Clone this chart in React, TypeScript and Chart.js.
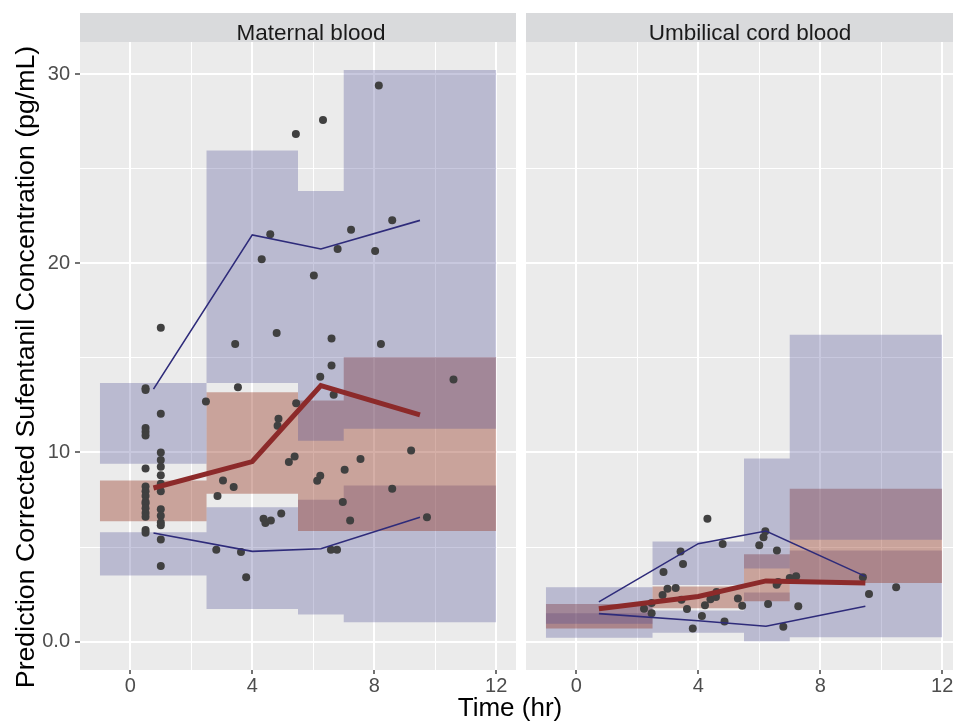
import React, { useEffect, useRef } from 'react';
import { Chart, registerables } from 'chart.js';

Chart.register(...registerables);

const FONT = "'Liberation Sans', Arial, Helvetica, sans-serif";

// ---------- data ----------
const binEdges = [-1, 2.5, 5.5, 7, 12];
const xMajorTicks = [0, 4, 8, 12];
const xGridTicks = [0, 2, 4, 6, 8, 10, 12];
const yGridTicks = [0, 5, 10, 15, 20, 25, 30];
const yTickLabels = ['0.0', '', '10', '', '20', '', '30'];

// Maternal blood: simulated CI bands per bin
const matUpperLo = [9.4, 13.67, 10.62, 11.25];
const matUpperHi = [13.67, 25.96, 23.82, 30.22];
const matMedLo = [6.36, 7.82, 5.85, 5.85];
const matMedHi = [8.52, 13.19, 12.75, 15.04];
const matLowerLo = [3.5, 1.73, 1.43, 1.02];
const matLowerHi = [5.78, 7.1, 7.5, 8.26];

// Maternal blood: observed percentile lines
const matLineX = [0.76, 4.0, 6.25, 9.5];
const matObsMedian = [8.12, 9.52, 13.54, 11.99];
const matObsP95 = [13.35, 21.5, 20.76, 22.27];
const matObsP05 = [5.74, 4.77, 4.91, 6.57];

// Maternal blood: observations
const matPoints: [number, number][] = [
  [0.5, 13.4], [0.5, 13.3], [0.5, 11.3], [0.5, 11.1], [0.5, 10.9], [0.5, 9.15],
  [0.5, 8.2], [0.5, 7.95], [0.5, 7.7], [0.5, 7.4], [0.5, 7.3], [0.5, 7.05],
  [0.5, 6.8], [0.5, 6.6], [0.5, 5.9], [0.5, 5.75],
  [1.0, 16.6], [1.0, 12.05], [1.0, 10.0], [1.0, 9.6], [1.0, 9.25], [1.0, 8.8],
  [1.0, 8.35], [1.0, 7.95], [1.0, 7.0], [1.0, 6.65], [1.0, 6.3], [1.0, 6.15],
  [1.0, 5.4], [1.0, 4.0],
  [2.48, 12.7], [2.82, 4.86], [2.86, 7.7], [3.04, 8.52], [3.39, 8.17], [3.44, 15.74],
  [3.53, 13.45], [3.63, 4.74], [3.8, 3.4], [4.31, 20.22], [4.37, 6.5], [4.43, 6.27],
  [4.59, 21.54], [4.61, 6.4], [4.8, 16.32], [4.86, 11.78], [4.83, 11.41], [4.95, 6.78],
  [5.2, 9.49], [5.39, 9.79], [5.43, 26.84], [5.44, 12.6], [6.02, 19.35], [6.13, 8.5],
  [6.23, 8.77], [6.23, 14.0], [6.32, 27.58], [6.58, 4.86], [6.6, 16.02], [6.6, 14.6],
  [6.67, 13.05], [6.78, 4.86], [6.8, 20.76], [6.97, 7.38], [7.03, 9.09], [7.21, 6.41],
  [7.24, 21.78], [7.55, 9.66], [8.03, 20.65], [8.15, 29.4], [8.22, 15.73], [8.59, 22.27],
  [8.59, 8.08], [9.21, 10.1], [9.73, 6.57], [10.6, 13.86],
];

// Umbilical cord blood: simulated CI bands per bin
const cordUpperLo = [0.95, 3.0, 3.86, 5.38];
const cordUpperHi = [2.87, 5.29, 9.68, 16.22];
const cordMedLo = [0.7, 1.76, 2.13, 3.1];
const cordMedHi = [1.99, 2.92, 4.62, 8.08];
const cordLowerLo = [0.2, 0.47, 0.02, 0.23];
const cordLowerHi = [1.5, 1.65, 2.6, 4.82];

// Umbilical cord blood: observed percentile lines
const cordLineX = [0.74, 4.0, 6.22, 9.48];
const cordObsMedian = [1.74, 2.39, 3.21, 3.1];
const cordObsP95 = [2.1, 5.18, 5.85, 3.45];
const cordObsP05 = [1.48, 1.1, 0.81, 1.87];

// Umbilical cord blood: observations
const cordPoints: [number, number][] = [
  [2.22, 1.74], [2.47, 1.5], [2.47, 2.04], [2.83, 2.47], [2.86, 3.68], [2.99, 2.8],
  [3.26, 2.84], [3.42, 4.77], [3.5, 4.1], [3.45, 2.22], [3.63, 1.73], [3.82, 0.69],
  [4.12, 1.35], [4.22, 1.92], [4.3, 6.5], [4.4, 2.24], [4.58, 2.36], [4.6, 2.62],
  [4.8, 5.16], [4.86, 1.07], [5.3, 2.28], [5.44, 1.9], [6.0, 5.1], [6.14, 5.52],
  [6.2, 5.83], [6.58, 4.82], [6.57, 3.01], [6.62, 3.15], [6.29, 1.99], [6.79, 0.78],
  [7.0, 3.36], [7.21, 3.45], [7.28, 1.87], [9.4, 3.4], [9.6, 2.52], [10.49, 2.87],
];

const yTitle = 'Prediction Corrected Sufentanil Concentration (pg/mL)';

// ---------- styling ----------
const BLUE_FILL = 'rgba(72, 72, 145, 0.30)';
const RED_FILL = 'rgba(150, 55, 35, 0.40)';
const BLUE_LINE = '#2e2b7a';
const RED_LINE = '#8c2a2a';
const POINT = '#404040';

const stepData = (vals: number[]) =>
  binEdges.map((e, i) => ({ x: e, y: vals[Math.min(i, vals.length - 1)] }));

const band = (lo: number[], hi: number[], color: string) => [
  {
    type: 'line', data: stepData(hi), stepped: true, fill: '+1', backgroundColor: color,
    borderWidth: 0, pointRadius: 0,
  },
  {
    type: 'line', data: stepData(lo), stepped: true, fill: false,
    borderWidth: 0, pointRadius: 0,
  },
];

const lineDs = (xs: number[], ys: number[], color: string, width: number) => ({
  type: 'line',
  data: xs.map((x, i) => ({ x, y: ys[i] })),
  borderColor: color, borderWidth: width, pointRadius: 0, fill: false, tension: 0,
});

const panelDeco = {
  id: 'panelDeco',
  beforeDraw(chart: any, _args: any, opts: any) {
    const { ctx, chartArea: a } = chart;
    ctx.save();
    ctx.fillStyle = '#ebebeb';
    ctx.fillRect(a.left, a.top, a.right - a.left, a.bottom - a.top);
    ctx.fillStyle = '#d9dadc';
    ctx.fillRect(a.left, 13, a.right - a.left, a.top - 13);
    ctx.fillStyle = '#1a1a1a';
    ctx.font = `22.5px ${FONT}`;
    ctx.textAlign = 'center';
    ctx.textBaseline = 'alphabetic';
    ctx.fillText(opts.label, opts.textX, 39.5);
    if (opts.yTitle) {
      ctx.translate(34, 367);
      ctx.rotate(-Math.PI / 2);
      ctx.fillStyle = '#000000';
      ctx.font = `26.7px ${FONT}`;
      ctx.textAlign = 'center';
      ctx.textBaseline = 'alphabetic';
      ctx.fillText(opts.yTitle, 0, 0);
    }
    ctx.restore();
  },
};

function buildConfig(p: any, isLeft: boolean): any {
  const datasets: any[] = [
    lineDs(p.lineX, p.median, RED_LINE, 5),
    lineDs(p.lineX, p.p95, BLUE_LINE, 1.6),
    lineDs(p.lineX, p.p05, BLUE_LINE, 1.6),
    {
      type: 'scatter',
      data: p.points.map(([x, y]: [number, number]) => ({ x, y })),
      pointRadius: 4, pointBackgroundColor: POINT, pointBorderWidth: 0, showLine: false,
    },
    ...band(p.upperLo, p.upperHi, BLUE_FILL),
    ...band(p.medLo, p.medHi, RED_FILL),
    ...band(p.lowerLo, p.lowerHi, BLUE_FILL),
  ];
  return {
    type: 'line',
    data: { datasets },
    plugins: [panelDeco],
    options: {
      responsive: false,
      animation: false,
      devicePixelRatio: 1,
      layout: { padding: { top: 42, right: isLeft ? 4 : 8, left: 0, bottom: 0 } },
      plugins: {
        legend: { display: false },
        tooltip: { enabled: false },
        panelDeco: { label: p.label, textX: p.textX, yTitle: isLeft ? yTitle : null },
      },
      scales: {
        x: {
          type: 'linear', min: -1.65, max: 12.65,
          afterBuildTicks: (s: any) => { s.ticks = xGridTicks.map((v) => ({ value: v })); },
          afterFit: (s: any) => { s.height = 51; },
          ticks: {
            autoSkip: false, maxRotation: 0, padding: 0,
            color: '#4d4d4d', font: { size: 20, family: FONT },
            callback: (v: any) => (xMajorTicks.includes(Number(v)) ? String(v) : ''),
          },
          grid: {
            color: '#ffffff',
            lineWidth: (c: any) => (c.tick && c.tick.value % 4 === 0 ? 2 : 1),
            tickLength: 4,
            tickWidth: 1.5,
            tickColor: (c: any) => (c.tick && c.tick.value % 4 === 0 ? '#444444' : 'rgba(0,0,0,0)'),
          },
          border: { display: false },
        },
        y: {
          type: 'linear', min: -1.5, max: 31.7,
          afterBuildTicks: (s: any) => { s.ticks = yGridTicks.map((v) => ({ value: v })); },
          afterFit: (s: any) => { s.width = isLeft ? 80 : 6; },
          ticks: {
            display: isLeft, autoSkip: false, padding: 5,
            color: '#4d4d4d', font: { size: 20, family: FONT },
            callback: (v: any) => yTickLabels[yGridTicks.indexOf(Number(v))] ?? '',
          },
          grid: {
            color: '#ffffff',
            lineWidth: (c: any) => (c.tick && c.tick.value % 10 === 0 ? 2 : 1),
            drawTicks: isLeft,
            tickLength: 5,
            tickWidth: 1.5,
            tickColor: (c: any) => (c.tick && c.tick.value % 10 === 0 ? '#444444' : 'rgba(0,0,0,0)'),
          },
          border: { display: false },
        },
      },
    },
  };
}

const maternal = {
  label: 'Maternal blood', textX: 311,
  upperLo: matUpperLo, upperHi: matUpperHi, medLo: matMedLo, medHi: matMedHi,
  lowerLo: matLowerLo, lowerHi: matLowerHi,
  lineX: matLineX, median: matObsMedian, p95: matObsP95, p05: matObsP05, points: matPoints,
};

const cord = {
  label: 'Umbilical cord blood', textX: 230,
  upperLo: cordUpperLo, upperHi: cordUpperHi, medLo: cordMedLo, medHi: cordMedHi,
  lowerLo: cordLowerLo, lowerHi: cordLowerHi,
  lineX: cordLineX, median: cordObsMedian, p95: cordObsP95, p05: cordObsP05, points: cordPoints,
};

function Panel({ panel, isLeft, left, width }: any) {
  const ref = useRef<HTMLCanvasElement>(null);
  useEffect(() => {
    const chart = new Chart(ref.current as HTMLCanvasElement, buildConfig(panel, isLeft));
    return () => chart.destroy();
  }, []);
  return (
    <canvas
      ref={ref}
      width={width}
      height={721}
      style={{ position: 'absolute', left, top: 0, width, height: 721 }}
    />
  );
}

export default function App() {
  return (
    <div
      style={{
        position: 'absolute', left: 0, top: 0, width: 953, height: 721,
        overflow: 'hidden', background: '#ffffff',
      }}
    >
      <Panel panel={maternal} isLeft={true} left={0} width={520} />
      <Panel panel={cord} isLeft={false} left={520} width={450} />
      <div
        style={{
          position: 'absolute', left: 410, width: 200, top: 694, textAlign: 'center',
          fontFamily: FONT, fontSize: 26, lineHeight: 1, color: '#000000',
        }}
      >
        Time (hr)
      </div>
    </div>
  );
}
